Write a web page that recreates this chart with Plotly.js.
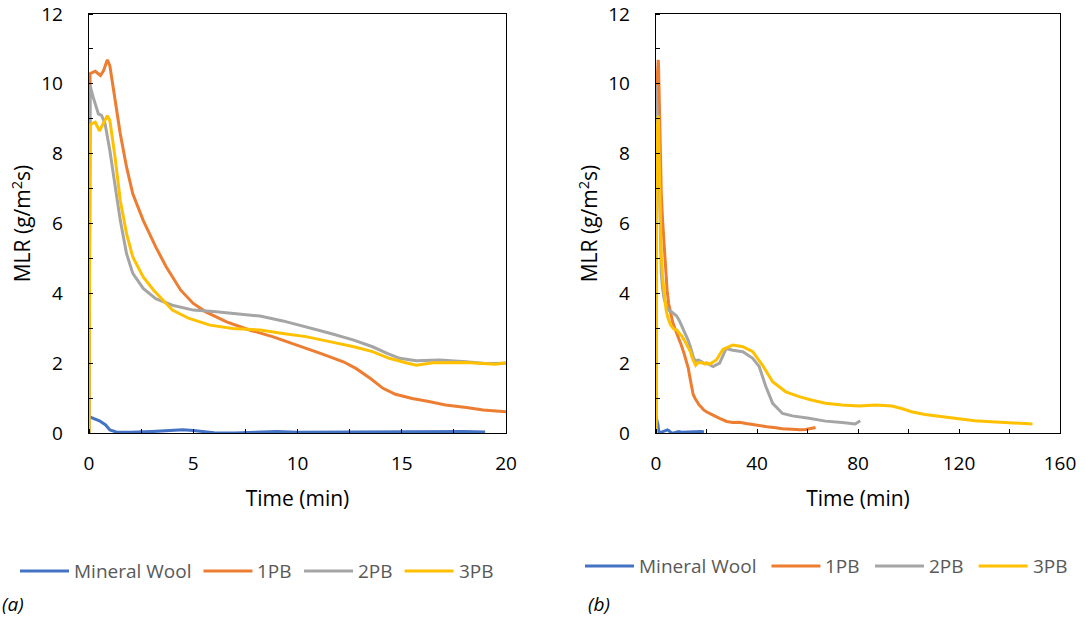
<!DOCTYPE html>
<html>
<head>
<meta charset="utf-8">
<script src="https://cdn.plot.ly/plotly-3.0.1.min.js"></script>
<style>html,body{margin:0;padding:0;background:#fff}#chart{width:1085px;height:621px}</style>
</head>
<body>
<div id="chart"></div>
<script>
// ---- data (time in min, MLR in g/m²s) ----
const seriesNames = ["Mineral Wool", "1PB", "2PB", "3PB"];
const seriesColors = ["#4472C4", "#ED7D31", "#A5A5A5", "#FFC000"];

const tMW = [0, 0.5, 0.8, 1.0, 1.3, 2, 3, 4, 4.5, 5, 6, 7, 8, 9, 10, 12, 14, 16, 18, 19];
const vMW = [0.47, 0.35, 0.23, 0.09, 0.03, 0.02, 0.04, 0.08, 0.09, 0.07, 0.01, 0.0, 0.03, 0.04, 0.02, 0.03, 0.02, 0.03, 0.04, 0.03];

const t1PB = [0, 0.05, 0.3, 0.55, 0.7, 0.88, 1.0, 1.25, 1.5, 1.8, 2.1, 2.6, 3.2, 3.7, 4.4, 5.0, 5.6, 6.6, 7.7, 8.8, 10.0, 11.1, 12.2, 12.8, 13.5, 14.1, 14.7, 15.5, 16.3, 17.1, 18.1, 18.9, 20.0, 21.2, 25.2, 28, 30.4, 33, 35.7, 38, 40.9, 44, 47.5, 50, 54, 57, 59.3, 61, 63.2];
const v1PB = [0, 10.29, 10.36, 10.24, 10.38, 10.69, 10.52, 9.52, 8.57, 7.62, 6.85, 6.09, 5.33, 4.76, 4.09, 3.71, 3.47, 3.18, 2.95, 2.76, 2.52, 2.28, 2.04, 1.85, 1.56, 1.28, 1.11, 0.99, 0.90, 0.80, 0.73, 0.66, 0.61, 0.56, 0.42, 0.33, 0.30, 0.31, 0.27, 0.24, 0.20, 0.18, 0.15, 0.12, 0.11, 0.09, 0.10, 0.12, 0.16];

const t2PB = [0, 0.05, 0.2, 0.45, 0.6, 0.77, 1.0, 1.25, 1.5, 1.8, 2.1, 2.6, 3.2, 4.0, 5.0, 6.1, 6.9, 8.2, 9.3, 10.4, 11.6, 12.7, 13.6, 14.3, 14.9, 15.7, 16.8, 18.1, 19.0, 20.0, 22.6, 25.2, 27.8, 30.4, 34.4, 38.3, 40.9, 43.5, 46.2, 50.1, 54, 60.6, 67.1, 73.7, 78.9, 80.9];
const v2PB = [0, 9.95, 9.62, 9.14, 9.1, 8.86, 8.09, 7.04, 6.09, 5.14, 4.57, 4.14, 3.85, 3.66, 3.52, 3.47, 3.42, 3.35, 3.21, 3.04, 2.85, 2.66, 2.47, 2.28, 2.14, 2.07, 2.09, 2.04, 1.99, 2.0, 1.9, 2.0, 2.42, 2.37, 2.33, 2.14, 1.9, 1.33, 0.85, 0.56, 0.49, 0.42, 0.34, 0.30, 0.26, 0.35];

const t3PB = [0, 0.05, 0.13, 0.3, 0.5, 0.69, 0.88, 1.0, 1.25, 1.5, 1.8, 2.1, 2.6, 3.1, 3.6, 4.0, 4.8, 5.8, 6.9, 8.2, 9.3, 10.4, 11.6, 12.7, 13.6, 14.4, 15.2, 15.7, 16.5, 18.1, 19.5, 20.0, 21.2, 23.9, 26.5, 30.4, 34.4, 38.3, 42.2, 46.2, 51.4, 56.7, 61.9, 67.1, 73.7, 80.3, 86.8, 93.4, 97.3, 101.2, 106.5, 113, 119.6, 126.2, 132.7, 139.3, 145.8, 149.1];
const v3PB = [0, 8.8, 8.86, 8.9, 8.65, 8.86, 9.09, 8.95, 7.9, 6.66, 5.71, 5.04, 4.47, 4.09, 3.76, 3.52, 3.28, 3.09, 2.99, 2.95, 2.85, 2.76, 2.61, 2.47, 2.33, 2.14, 2.01, 1.94, 2.01, 2.02, 1.97, 2.01, 1.97, 2.09, 2.39, 2.52, 2.47, 2.33, 1.94, 1.47, 1.18, 1.04, 0.94, 0.85, 0.80, 0.77, 0.80, 0.77, 0.70, 0.61, 0.53, 0.47, 0.40, 0.35, 0.32, 0.30, 0.28, 0.26];

const seriesT = [tMW, t1PB, t2PB, t3PB];
const seriesV = [vMW, v1PB, v2PB, v3PB];

const xTicksA = [0, 5, 10, 15, 20];
const xTicksB = [0, 40, 80, 120, 160];
const yTicks = [0, 2, 4, 6, 8, 10, 12];
const panelLabels = ["(a)", "(b)"];

// ---- build traces ----
const FONT = "Open Sans, Noto Sans, sans-serif";
const traces = [];
[["x", "y"], ["x2", "y2"]].forEach(([xa, ya]) => {
  seriesNames.forEach((n, i) => {
    traces.push({
      type: "scatter", mode: "lines", name: n, showlegend: false,
      x: seriesT[i], y: seriesV[i], xaxis: xa, yaxis: ya,
      line: {color: seriesColors[i], width: 3}
    });
  });
});

function xAxis(domain, ticks, minorStep, range, anchor) {
  return {
    domain: domain, anchor: anchor, range: range, tickvals: ticks,
    ticks: "", showgrid: false, zeroline: false,
    showline: true, mirror: true, linecolor: "#000", linewidth: 1.3,
    minor: {ticks: "inside", dtick: minorStep, tick0: 0, ticklen: 4, tickcolor: "#000", showgrid: false},
    tickfont: {family: FONT, size: 19, color: "#000"},
    ticklabelstandoff: 13,
    title: {text: "Time (min)", font: {family: FONT, size: 21, color: "#000"}, standoff: 16}
  };
}
function yAxis(domain, anchor) {
  return {
    domain: domain, anchor: anchor, range: [0, 12], tickvals: yTicks,
    ticks: "", showgrid: false, zeroline: false,
    showline: true, mirror: true, linecolor: "#000", linewidth: 1.3,
    minor: {ticks: "inside", dtick: 1, tick0: 0, ticklen: 4, tickcolor: "#000", showgrid: false},
    tickfont: {family: FONT, size: 19, color: "#000"},
    ticklabelstandoff: 21,
    title: {text: "MLR (g/m<sup>2</sup>s)", font: {family: FONT, size: 21, color: "#000"}, standoff: 4}
  };
}

const W = 1085, H = 621;
const legendFont = {family: FONT, size: 19, color: "#595959"};

// legend drawn as line shapes + text annotations (Excel-style long keys)
const cnv = document.createElement("canvas").getContext("2d");
cnv.font = "19px 'Open Sans'";
const shapes = [];
const annotations = [];
function addLegend(x0, yPix, gap) {
  let x = x0;
  const y = 1 - yPix / H;
  seriesNames.forEach((n, i) => {
    shapes.push({type: "line", xref: "paper", yref: "paper", x0: x / W, x1: (x + 49) / W, y0: y, y1: y,
                 line: {color: seriesColors[i], width: 3}});
    annotations.push({text: n, xref: "paper", yref: "paper", x: (x + 52) / W, y: y, xanchor: "left", yanchor: "middle",
                      showarrow: false, font: legendFont});
    x += 49 + 5 + cnv.measureText(n).width + gap;
  });
}
addLegend(20, 571, 12);
addLegend(585, 566, 15);
annotations.push(
  {text: "<i>" + panelLabels[0] + "</i>", xref: "paper", yref: "paper", x: 0, y: 1 - 604 / H, xanchor: "left", yanchor: "middle",
   showarrow: false, font: {family: FONT, size: 19, color: "#000"}},
  {text: "<i>" + panelLabels[1] + "</i>", xref: "paper", yref: "paper", x: 586 / W, y: 1 - 604 / H, xanchor: "left", yanchor: "middle",
   showarrow: false, font: {family: FONT, size: 19, color: "#000"}}
);

const layout = {
  width: W, height: H,
  margin: {l: 0, r: 0, t: 0, b: 0},
  paper_bgcolor: "#fff", plot_bgcolor: "#fff",
  font: {family: FONT},
  showlegend: false,
  xaxis: xAxis([89 / W, 506 / W], xTicksA, 2.5, [0, 20], "y"),
  yaxis: yAxis([1 - 433 / H, 1 - 14 / H], "x"),
  xaxis2: xAxis([656 / W, 1060 / W], xTicksB, 20, [0, 160], "y2"),
  yaxis2: yAxis([1 - 433 / H, 1 - 14 / H], "x2"),
  shapes: shapes,
  annotations: annotations
};

Plotly.newPlot("chart", traces, layout, {displayModeBar: false, staticPlot: true});
</script>
</body>
</html>
